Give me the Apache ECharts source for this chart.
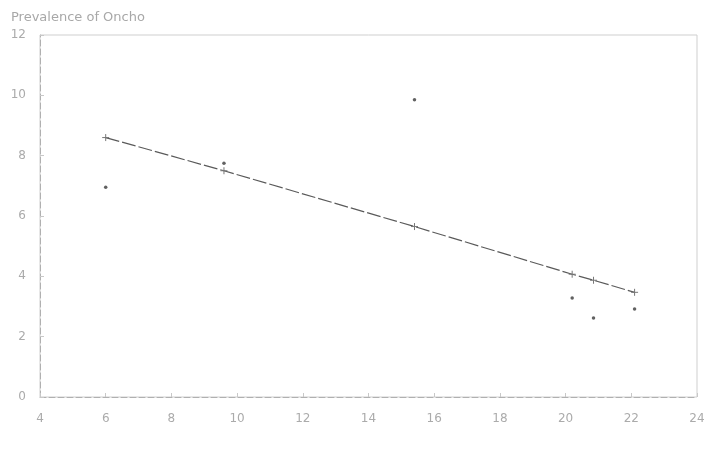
<!DOCTYPE html>
<html>
<head>
<meta charset="utf-8">
<script src="https://cdn.jsdelivr.net/npm/echarts@6/dist/echarts.min.js"></script>
<style>html,body{margin:0;padding:0;background:#fff;}#c{width:717px;height:458px;}</style>
</head>
<body>
<div id="c"></div>
<script>
var titleText = 'Prevalence of Oncho';
var xObserved = [6.0, 9.6, 15.4, 20.2, 20.85, 22.1];
var yObserved = [6.95, 7.75, 9.85, 3.28, 2.62, 2.92];
var yFitted   = [8.6, 7.5, 5.65, 4.07, 3.87, 3.47];
var xTicks = [4, 6, 8, 10, 12, 14, 16, 18, 20, 22, 24];
var yTicks = [0, 2, 4, 6, 8, 10, 12];

var obs = xObserved.map(function(x, i){ return [x, yObserved[i]]; });
var fit = xObserved.map(function(x, i){ return [x, yFitted[i]]; });
var plusPath = 'path://M0,5L10,5M5,0L5,10';

var chart = echarts.init(document.getElementById('c'), null, {renderer: 'canvas'});
chart.setOption({
  animation: false,
  backgroundColor: '#ffffff',
  title: {
    text: titleText, left: 6, top: 6,
    textStyle: {color: '#a8a8a8', fontSize: 13, fontWeight: 'normal', fontFamily: 'DejaVu Sans'}
  },
  grid: {left: 40, right: 20, top: 35, bottom: 61, show: true, borderColor: '#cfcfcf', borderWidth: 1, backgroundColor: 'transparent'},
  xAxis: {
    type: 'value', min: 4, max: 24, interval: 2,
    axisLine: {show: true, lineStyle: {color: '#b0b0b0', type: [6, 3]}},
    axisTick: {show: true, inside: true, length: 4, lineStyle: {color: '#c8c8c8'}},
    splitLine: {show: false},
    axisLabel: {color: '#ababab', fontSize: 12, margin: 16, fontFamily: 'DejaVu Sans',
      formatter: function(v){ return xTicks.indexOf(v) >= 0 ? String(v) : ''; }}
  },
  yAxis: {
    type: 'value', min: 0, max: 12, interval: 2,
    axisLine: {show: true, lineStyle: {color: '#b0b0b0', type: [6, 3]}},
    axisTick: {show: true, inside: true, length: 4, lineStyle: {color: '#c8c8c8'}},
    splitLine: {show: false},
    axisLabel: {color: '#ababab', fontSize: 12, margin: 14, fontFamily: 'DejaVu Sans',
      formatter: function(v){ return yTicks.indexOf(v) >= 0 ? String(v) : ''; }}
  },
  series: [
    {
      type: 'line', data: fit, symbol: plusPath, symbolSize: 7,
      lineStyle: {color: '#5a5a5a', width: 1.2, type: [14, 3]},
      itemStyle: {color: 'transparent', borderColor: '#777', borderWidth: 1}
    },
    {
      type: 'scatter', data: obs, symbol: 'circle', symbolSize: 3.5,
      itemStyle: {color: '#3a3a3a'}
    }
  ]
});
</script>
</body>
</html>
